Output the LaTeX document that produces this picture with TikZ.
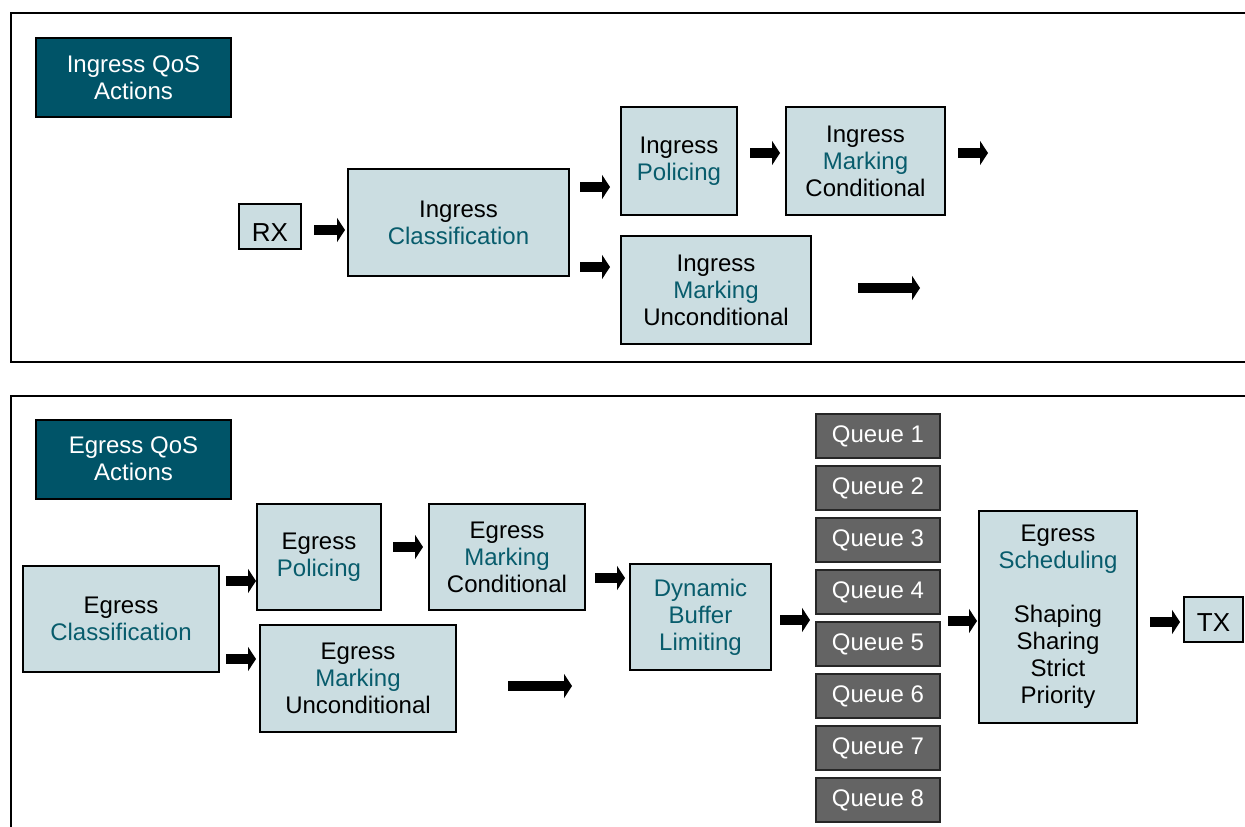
\documentclass[tikz,border=0pt]{standalone}
\usepackage{fontspec}
\setmainfont{Liberation Sans}
\usetikzlibrary{arrows.meta}
\definecolor{lightc}{RGB}{203,221,225}
\definecolor{tealtext}{RGB}{8,92,108}
\definecolor{headc}{RGB}{0,84,104}
\definecolor{queuec}{RGB}{100,100,100}
\newcommand\tq[1]{\textcolor{tealtext}{#1}}
\tikzset{
  lbox/.style={draw=black, line width=2pt, fill=lightc, align=center, inner sep=0pt,
    font=\fontsize{24}{27}\selectfont, text=black},
  hbox/.style={draw=black, line width=2pt, fill=headc, align=center, inner sep=0pt,
    font=\fontsize{24}{27}\selectfont, text=white, minimum width=195pt, minimum height=79pt},
  qbox/.style={draw=black!85, line width=2pt, fill=queuec, align=center, inner sep=0pt,
    font=\fontsize{24}{27}\selectfont, text=white, minimum width=124pt, minimum height=44pt},
  frame/.style={draw=black, line width=2pt},
  blk/.style={line width=10.5pt, -{Triangle[length=8pt,width=24pt]}, black}
}
\begin{document}
\begin{tikzpicture}[x=1pt,y=-1pt]
\useasboundingbox (0,0) rectangle (1245,827);
\clip (0,0) rectangle (1245,827);
% frames
\draw[frame] (1300,13) -- (11,13) -- (11,362) -- (1300,362);
\draw[frame] (1300,396) -- (11,396) -- (11,900);
% ingress
\node[hbox] (ihead) at (133.5,77.5) {Ingress QoS\\Actions};
\node[lbox, minimum width=62pt, minimum height=45pt, font=\fontsize{26}{27}\selectfont, text height=29pt, text depth=0pt] (rx) at (270,226.5) {RX};
\node[lbox, minimum width=221pt, minimum height=107pt] (icls) at (458.5,222.5) {Ingress\\\tq{Classification}};
\node[lbox, minimum width=116pt, minimum height=108pt] (ipol) at (679,161) {Ingress\\\tq{Policing}};
\node[lbox, minimum width=159pt, minimum height=108pt] (imc) at (865.5,161) {Ingress\\\tq{Marking}\\Conditional};
\node[lbox, minimum width=190pt, minimum height=108pt] (imu) at (716,290) {Ingress\\\tq{Marking}\\Unconditional};
\draw[blk] (rx.east) ++(12,3.5) -- ++(31,0);
\draw[blk] (icls.east) ++(10,-35.5) -- ++(30,0);
\draw[blk] (icls.east) ++(10,44.5) -- ++(30,0);
\draw[blk] (ipol.east) ++(12,-8) -- ++(30,0);
\draw[blk] (imc.east) ++(12,-8) -- ++(30,0);
\draw[blk] (imu.east) ++(46,-2) -- ++(62,0);
% egress
\node[hbox] (ehead) at (133.5,459) {Egress QoS\\Actions};
\node[lbox, minimum width=196pt, minimum height=106pt] (ecls) at (121,619) {Egress\\\tq{Classification}};
\node[lbox, minimum width=124pt, minimum height=106pt] (epol) at (319,557) {Egress\\\tq{Policing}};
\node[lbox, minimum width=156pt, minimum height=106pt] (emc) at (507,557) {Egress\\\tq{Marking}\\Conditional};
\node[lbox, minimum width=196pt, minimum height=107pt] (emu) at (358,678.5) {Egress\\\tq{Marking}\\Unconditional};
\node[lbox, minimum width=141pt, minimum height=106pt] (dbl) at (700.5,617) {\tq{Dynamic}\\\tq{Buffer}\\\tq{Limiting}};
\foreach \i in {1,...,8} {
  \node[qbox] (q\i) at (878,{436+52*(\i-1)}) {Queue \i};
}
\node[lbox, minimum width=158pt, minimum height=212pt] (sched) at (1058,617) {Egress\\\tq{Scheduling}\\[27pt]Shaping\\Sharing\\Strict\\Priority};
\node[lbox, minimum width=59pt, minimum height=45pt, font=\fontsize{26}{27}\selectfont, text height=24pt, text depth=0pt] (tx) at (1213.5,619.5) {TX};
\draw[blk] (ecls.east) ++(6,-38) -- ++(30,0);
\draw[blk] (ecls.east) ++(6,40) -- ++(30,0);
\draw[blk] (epol.east) ++(11,-10) -- ++(30,0);
\draw[blk] (emc.east) ++(9,21) -- ++(30,0);
\draw[blk] (emu.east) ++(51,7.5) -- ++(64,0);
\draw[blk] (dbl.east) ++(8,3) -- ++(30,0);
\draw[blk] (q5.east) ++(7,-23) -- ++(29,0);
\draw[blk] (sched.east) ++(12,5) -- ++(30,0);
\end{tikzpicture}
\end{document}
